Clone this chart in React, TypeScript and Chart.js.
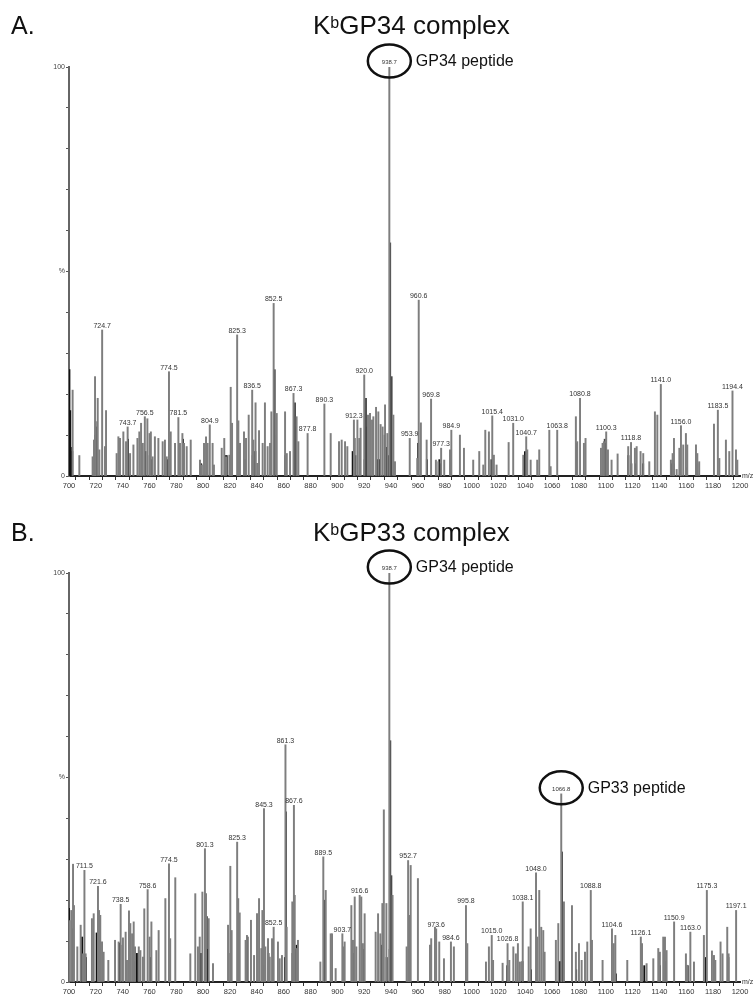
import React, { useEffect, useRef } from 'react';
import { Chart, registerables } from 'chart.js';

Chart.register(...registerables);

const FONT = '"Liberation Sans", Arial, Helvetica, sans-serif';

type Peak = [number, number]; // [m/z, relative intensity %]

// ---------- Panel A: KbGP34 complex ----------
const topPeaks: Peak[] = [
  [702.7, 21], [707.7, 5], [717.6, 4.7], [718.6, 8.8], [719.4, 24.3], [720.0, 13.3], [721.4, 19], [722.6, 6.4],
  [724.7, 35.7], [726.8, 7.2], [727.6, 16], [735.5, 5.5], [736.8, 9.6], [738.0, 9.2], [740.5, 10.8], [742.5, 8.4],
  [743.7, 12], [745.5, 5.5], [748.0, 7.6], [751.0, 9.2], [752.4, 10.8], [753.7, 12.9], [755.0, 8], [756.5, 14.5],
  [758.4, 14], [760.0, 10.4], [761.0, 10.8], [762.3, 4.7], [764.0, 9.6], [766.6, 9.2], [769.8, 8.4], [771.5, 8.8],
  [772.8, 4.7], [774.5, 25.5], [775.8, 10.8], [779.0, 8], [781.5, 14.3], [782.7, 8], [784.5, 10.4], [785.7, 8],
  [787.7, 7.2], [790.7, 8.8], [797.6, 3.9], [799.0, 2.7], [800.6, 8], [802.1, 9.6], [803.3, 8], [804.9, 12.5],
  [807.0, 8], [808.0, 2.7], [813.8, 6.8], [815.7, 9.2], [817.0, 4.7], [819.5, 5.1], [820.5, 21.7], [821.5, 12.9],
  [825.3, 34.5], [826.2, 13.5], [827.4, 8], [830.4, 10.8], [831.9, 9.2], [833.9, 14.9], [836.5, 21], [837.4, 8.8],
  [839.0, 17.9], [840.3, 3.1], [841.6, 11.1], [844.3, 8], [846.0, 17.9], [848.0, 7.2], [849.8, 8], [850.8, 15.7],
  [852.5, 42.2], [854.8, 15.3], [861.0, 15.7], [862.3, 5.5], [864.7, 6], [867.3, 20.2], [869.6, 14.5], [870.9, 8.4],
  [877.8, 10.4], [890.3, 17.6], [895.0, 10.4], [901.2, 8.4], [903.2, 8.8], [905.7, 8.4], [907.4, 7.2], [912.3, 13.7],
  [913.0, 9.2], [914.9, 13.7], [916.3, 9.2], [917.3, 11.7], [920.0, 24.7], [922.8, 14.9], [924.3, 15.3], [925.8, 13.7],
  [926.8, 14.5], [928.8, 16.8], [930.5, 15.7], [932.2, 12.6], [933.7, 12], [935.5, 17.4], [937.2, 10.4], [938.7, 100],
  [941.7, 14.9], [942.9, 3.5], [953.9, 9.2], [959.5, 4.3], [960.6, 43], [962.2, 13], [966.5, 8.8], [969.8, 18.8],
  [973.4, 3.9], [975.2, 3.5], [977.3, 6.8], [979.6, 3.9], [983.9, 6.4], [984.9, 11.2], [991.3, 10], [994.3, 6.8],
  [1001.2, 3.9], [1005.7, 6], [1008.7, 2.7], [1010.2, 11.2], [1012.9, 10.8], [1015.4, 14.7], [1016.6, 5.1], [1018.6, 2.7],
  [1027.6, 8.2], [1031.0, 12.9], [1038.5, 5.1], [1040.7, 9.6], [1041.5, 6.4], [1044.0, 3.9], [1048.9, 3.9], [1050.4, 6.4],
  [1057.9, 11.2], [1058.9, 2.3], [1063.8, 11.2], [1077.7, 14.5], [1078.7, 8.4], [1080.8, 19], [1083.7, 8], [1084.9, 9.2],
  [1096.4, 6.8], [1097.6, 8], [1098.6, 8.4], [1100.3, 10.8], [1101.6, 6.4], [1104.3, 3.9], [1108.8, 5.4], [1116.7, 7.2],
  [1118.8, 8.2], [1121.7, 6.8], [1123.0, 7.2], [1125.9, 6], [1127.9, 5.5], [1132.4, 3.5], [1136.6, 15.7], [1138.4, 14.9],
  [1141.0, 22.4], [1148.5, 3.9], [1149.8, 5.5], [1150.8, 9.2], [1152.8, 1.6], [1154.8, 6.8], [1156.0, 12.3], [1157.7, 7.6],
  [1159.7, 10.4], [1160.7, 7.6], [1167.2, 7.6], [1168.2, 5.5], [1169.6, 3.5], [1180.6, 12.7], [1183.5, 16.1], [1184.6, 4.3],
  [1189.5, 8.8], [1192.0, 6], [1194.4, 20.8], [1197.0, 6.4], [1198.0, 3.9],
];

const topShadePeaks: Peak[] = [
  [853.3, 26], [868.4, 17.9], [921.3, 19], [939.3, 57], [940.4, 24.3], [1099.2, 9],
];

const topDarkPeaks: Peak[] = [
  [700.3, 26], [700.9, 16], [701.4, 7], [702.4, 6], [719.6, 10], [720.2, 12], [744.0, 9], [756.9, 6],
  [760.2, 5], [761.3, 4], [773.2, 4], [784.9, 9], [798.5, 3], [816.5, 5], [817.5, 5], [826.4, 6],
  [831.2, 4], [836.9, 5], [838.8, 6], [852.8, 10], [861.2, 5], [867.8, 15], [868.9, 12], [911.4, 6],
  [913.4, 5], [920.3, 4], [921.6, 12], [929.5, 4], [931.0, 4], [935.3, 10], [936.2, 7], [938.2, 5],
  [960.2, 8], [966.7, 4], [976.0, 4], [977.1, 3], [1014.8, 4], [1015.9, 3], [1039.8, 6], [1040.4, 5],
  [1041.2, 3], [1078.5, 8], [1098.5, 6], [1099.6, 8], [1116.8, 5], [1119.0, 3], [1121.9, 3], [1127.8, 3],
  [1149.0, 3], [1150.5, 3], [1159.8, 2], [1168.1, 3],
];

const topLabelled: number[] = [
  724.7, 743.7, 756.5, 774.5, 781.5, 804.9, 825.3, 836.5, 852.5, 867.3, 877.8, 890.3, 912.3, 920.0, 953.9,
  960.6, 969.8, 977.3, 984.9, 1015.4, 1031.0, 1040.7, 1063.8, 1080.8, 1100.3, 1118.8, 1141.0, 1156.0, 1183.5, 1194.4,
];

const topCircled: [number, string][] = [[938.7, 'GP34 peptide']];

// ---------- Panel B: KbGP33 complex ----------
const bottomPeaks: Peak[] = [
  [700.5, 15], [701.7, 17.5], [703.0, 28.8], [703.7, 18.7], [706.2, 8.6], [708.7, 13.9], [710.4, 6.9], [711.5, 27.3],
  [712.4, 6.9], [717.1, 15.5], [718.4, 16.7], [721.6, 23.4], [722.4, 17.5], [723.3, 16.3], [724.6, 9.8], [725.8, 7.3],
  [729.3, 5.3], [734.3, 10.2], [737.0, 9.8], [738.5, 19], [740.2, 10.8], [742.2, 12.2], [743.2, 5.3], [744.7, 17.4],
  [745.7, 14.3], [747.0, 11.8], [748.2, 14.7], [749.2, 8.6], [752.0, 8.6], [753.2, 7.7], [755.1, 6.1], [756.1, 17.9],
  [758.6, 22.6], [760.1, 11], [761.4, 14.7], [765.1, 7.7], [766.8, 12.6], [771.8, 20.4], [774.5, 28.9], [775.4, 10.6],
  [779.2, 25.5], [790.4, 6.9], [794.1, 21.6], [796.1, 8.6], [797.4, 11], [799.4, 22], [801.3, 32.6], [802.1, 21.6],
  [804.1, 15.5], [807.3, 4.5], [818.5, 13.9], [820.2, 28.3], [821.2, 12.6], [825.3, 34.2], [826.1, 20.4], [827.2, 16.9],
  [831.6, 10.2], [832.6, 11.4], [835.6, 15.1], [837.9, 6.5], [840.1, 16.7], [841.6, 20.4], [843.3, 8.2], [844.1, 17.5],
  [845.3, 42.4], [846.3, 8.6], [848.3, 10.6], [849.5, 6.1], [851.3, 10.6], [852.5, 13.4], [855.7, 9.8], [857.0, 5.7],
  [858.7, 6.5], [861.3, 58], [862.2, 13.4], [866.4, 19.6], [867.6, 43.2], [868.2, 21.2], [869.4, 8.2], [870.6, 10.2],
  [887.3, 4.9], [889.5, 30.6], [891.3, 22.4], [895.0, 11.8], [896.0, 11.8], [898.7, 3.3], [903.7, 11.8], [904.7, 8.6],
  [905.4, 9.8], [910.4, 18.7], [911.6, 10.2], [912.9, 20.8], [914.1, 8.6], [916.6, 21.2], [917.8, 20.8], [919.0, 9.4],
  [920.3, 16.7], [928.5, 12.2], [930.3, 16.7], [932.0, 11.8], [933.5, 19.2], [934.6, 42.1], [936.5, 19.2], [938.7, 100],
  [941.1, 21.2], [951.6, 8.6], [952.7, 29.7], [953.6, 16.3], [954.6, 28.5], [960.0, 25.3], [969.0, 9], [969.9, 10.6],
  [972.7, 13.4], [973.6, 13], [975.9, 9.8], [979.4, 5.7], [984.6, 9.8], [986.8, 8.6], [995.8, 18.7], [996.8, 9.4],
  [1010.7, 4.9], [1012.9, 8.6], [1015.0, 11.4], [1016.0, 5.3], [1023.1, 4.6], [1026.8, 9.4], [1028.1, 5.3], [1031.1, 8.6],
  [1033.0, 6.9], [1034.5, 9.4], [1036.0, 4.9], [1038.1, 19.6], [1042.5, 8.6], [1044.0, 13], [1048.0, 26.7], [1048.9, 11],
  [1050.4, 22.4], [1051.9, 13.4], [1053.4, 12.6], [1054.4, 7.3], [1062.8, 10.2], [1064.6, 14.3], [1066.8, 46], [1068.8, 19.6],
  [1074.8, 18.7], [1077.7, 7.3], [1080.0, 9.4], [1082.0, 5.3], [1084.5, 7.3], [1086.2, 9.8], [1088.8, 22.4], [1089.7, 10.2],
  [1097.6, 5.3], [1104.6, 13], [1105.9, 9.4], [1107.1, 11.4], [1116.0, 5.3], [1126.1, 11], [1127.0, 9.4], [1130.4, 4.5],
  [1135.4, 5.7], [1139.1, 8.2], [1140.3, 7.3], [1142.8, 11], [1144.1, 11], [1145.3, 7.7], [1150.9, 14.7], [1159.7, 6.9],
  [1160.7, 4.1], [1163.0, 12.2], [1165.7, 4.9], [1173.1, 11.4], [1175.3, 22.4], [1179.1, 7.6], [1180.6, 6.5], [1181.6, 5.3],
  [1185.5, 9.8], [1187.0, 6.9], [1190.5, 13.4], [1191.5, 6.9], [1197.1, 17.5],
];

const bottomShadePeaks: Peak[] = [
  [861.7, 41.6], [939.4, 59], [940.2, 26], [1067.4, 31.8], [890.6, 20],
];

const bottomDarkPeaks: Peak[] = [
  [700.0, 18], [702.6, 13], [709.8, 11], [712.6, 6], [720.6, 12], [737.6, 9.5], [738.3, 9], [748.5, 5],
  [750.6, 7], [760.8, 6], [798.2, 7], [802.6, 16], [803.5, 8], [820.4, 7], [833.0, 11], [844.9, 4],
  [848.6, 7], [849.2, 6], [860.9, 6], [866.6, 7], [868.9, 8], [869.6, 9], [912.0, 7], [919.4, 8],
  [932.6, 9], [936.7, 6], [939.0, 8], [954.0, 2.4], [1026.6, 4], [1037.9, 5], [1044.3, 3], [1048.7, 7],
  [1053.9, 7], [1065.8, 5], [1067.9, 6], [1077.9, 3], [1089.0, 6], [1107.5, 2], [1128.7, 4], [1140.4, 4],
  [1144.3, 5], [1161.0, 4], [1174.5, 6], [1191.3, 6],
];

const bottomLabelled: number[] = [
  711.5, 721.6, 738.5, 758.6, 774.5, 801.3, 825.3, 845.3, 852.5, 861.3, 867.6, 889.5, 903.7, 916.6, 952.7,
  973.6, 984.6, 995.8, 1015.0, 1026.8, 1038.1, 1048.0, 1088.8, 1104.6, 1126.1, 1150.9, 1163.0, 1175.3, 1197.1,
];

const bottomCircled: [number, string][] = [
  [938.7, 'GP34 peptide'],
  [1066.8, 'GP33 peptide'],
];

const MZ_MIN = 700;
const MZ_MAX = 1200;

interface PanelSpec {
  letter: string;
  complex: string;
  height: number;
  areaTop: number;
  areaBottom: number;
  titleBaseline: number;
  grey: Peak[];
  shade: Peak[];
  dark: Peak[];
  labelled: number[];
  circled: [number, string][];
}

const panels: PanelSpec[] = [
  {
    letter: 'A.', complex: 'GP34 complex', height: 496, areaTop: 67, areaBottom: 476, titleBaseline: 34,
    grey: topPeaks, shade: topShadePeaks, dark: topDarkPeaks, labelled: topLabelled, circled: topCircled,
  },
  {
    letter: 'B.', complex: 'GP33 complex', height: 500, areaTop: 77, areaBottom: 486, titleBaseline: 45,
    grey: bottomPeaks, shade: bottomShadePeaks, dark: bottomDarkPeaks, labelled: bottomLabelled, circled: bottomCircled,
  },
];

// Titles, peak m/z labels, circled peptide callouts and the m/z axis unit.
function decorPlugin(spec: PanelSpec) {
  const all = [...spec.grey, ...spec.shade, ...spec.dark];
  const heightAt = (mz: number) =>
    Math.max(...all.filter((p) => Math.abs(p[0] - mz) < 0.05).map((p) => p[1]));
  return {
    id: 'decor',
    afterDraw(chart: any) {
      const ctx: CanvasRenderingContext2D = chart.ctx;
      const xs = chart.scales.x;
      const ys = chart.scales.y;
      ctx.save();

      // panel letter
      ctx.fillStyle = '#111';
      ctx.textBaseline = 'alphabetic';
      ctx.textAlign = 'left';
      ctx.font = `25px ${FONT}`;
      ctx.fillText(spec.letter, 11, spec.titleBaseline);

      // title: K with superscript b, then the complex name
      let tx = 313;
      const base = spec.titleBaseline;
      ctx.font = `26px ${FONT}`;
      ctx.fillText('K', tx, base);
      tx += ctx.measureText('K').width;
      ctx.font = `16px ${FONT}`;
      ctx.fillText('b', tx, base - 6);
      tx += ctx.measureText('b').width;
      ctx.font = `26px ${FONT}`;
      ctx.fillText(spec.complex, tx, base);

      // m/z labels above labelled peaks
      ctx.fillStyle = '#333';
      ctx.font = `7px ${FONT}`;
      ctx.textAlign = 'center';
      ctx.textBaseline = 'bottom';
      for (const mz of spec.labelled) {
        const px = xs.getPixelForValue(mz);
        const py = ys.getPixelForValue(heightAt(mz));
        ctx.fillText(mz.toFixed(1), px, py - 0.5);
      }

      // circled peptide peaks
      for (const [mz, name] of spec.circled) {
        const px = xs.getPixelForValue(mz);
        const py = ys.getPixelForValue(heightAt(mz));
        const cy = py - 6;
        const rx = 21.5;
        const ry = 16.5;
        ctx.fillStyle = '#333';
        ctx.font = `6px ${FONT}`;
        ctx.textAlign = 'center';
        ctx.textBaseline = 'middle';
        ctx.fillText(mz.toFixed(1), px, cy + 1);
        ctx.beginPath();
        ctx.ellipse(px, cy, rx, ry, 0, 0, Math.PI * 2);
        ctx.lineWidth = 2.5;
        ctx.strokeStyle = '#111';
        ctx.stroke();
        ctx.fillStyle = '#111';
        ctx.font = `16px ${FONT}`;
        ctx.textAlign = 'left';
        ctx.fillText(name, px + rx + 5, cy + 1);
      }

      // axis unit at the right end of the x axis
      ctx.fillStyle = '#333';
      ctx.font = `7px ${FONT}`;
      ctx.textAlign = 'left';
      ctx.textBaseline = 'middle';
      ctx.fillText('m/z', xs.right + 2, ys.bottom);

      ctx.restore();
    },
  };
}

function SpectrumPanel({ spec }: { spec: PanelSpec }) {
  const ref = useRef<HTMLCanvasElement | null>(null);

  useEffect(() => {
    if (!ref.current) return;
    const toPts = (arr: Peak[]) => arr.map(([x, y]) => ({ x, y }));
    const chart = new Chart(ref.current, {
      type: 'bar',
      data: {
        datasets: [
          { data: toPts(spec.grey) as any, backgroundColor: '#7e7e7e', barThickness: 1.3, grouped: false },
          { data: toPts(spec.shade) as any, backgroundColor: '#4a4a4a', barThickness: 1.3, grouped: false },
          { data: toPts(spec.dark) as any, backgroundColor: '#111111', barThickness: 1.3, grouped: false },
        ],
      },
      options: {
        responsive: false,
        animation: false,
        layout: { padding: { top: spec.areaTop, right: 14, bottom: 0, left: 0 } },
        plugins: {
          legend: { display: false },
          tooltip: { enabled: false },
          title: { display: false },
        },
        scales: {
          x: {
            type: 'linear',
            min: MZ_MIN,
            max: MZ_MAX,
            offset: false,
            ticks: {
              stepSize: 10,
              maxTicksLimit: 60,
              autoSkip: false,
              maxRotation: 0,
              padding: 1,
              color: '#333',
              font: { family: FONT, size: 7.5 },
              callback: (v: any) => (Number(v) % 20 === 0 ? String(v) : ''),
            },
            grid: { drawOnChartArea: false, drawTicks: true, tickLength: 4, color: '#333', lineWidth: 1 },
            border: { display: true, color: '#222', width: 2 },
            afterFit: (s: any) => {
              s.height = spec.height - spec.areaBottom;
            },
          },
          y: {
            min: 0,
            max: 100,
            ticks: {
              stepSize: 10,
              autoSkip: false,
              padding: 1,
              color: '#444',
              font: { family: FONT, size: 7 },
              callback: (v: any) => (v === 100 ? '100' : v === 50 ? '%' : v === 0 ? '0' : ''),
            },
            grid: { drawOnChartArea: false, drawTicks: true, tickLength: 3, color: '#555', lineWidth: 1 },
            border: { display: true, color: '#666', width: 2 },
            afterFit: (s: any) => {
              s.width = 69;
            },
          },
        },
      } as any,
      plugins: [decorPlugin(spec)],
    });
    return () => chart.destroy();
  }, [spec]);

  return <canvas ref={ref} width={754} height={spec.height} style={{ display: 'block' }} />;
}

export default function App() {
  return (
    <div style={{ position: 'absolute', left: 0, top: 0, width: 754, height: 996, background: '#fff' }}>
      {panels.map((p) => (
        <SpectrumPanel key={p.letter} spec={p} />
      ))}
    </div>
  );
}
